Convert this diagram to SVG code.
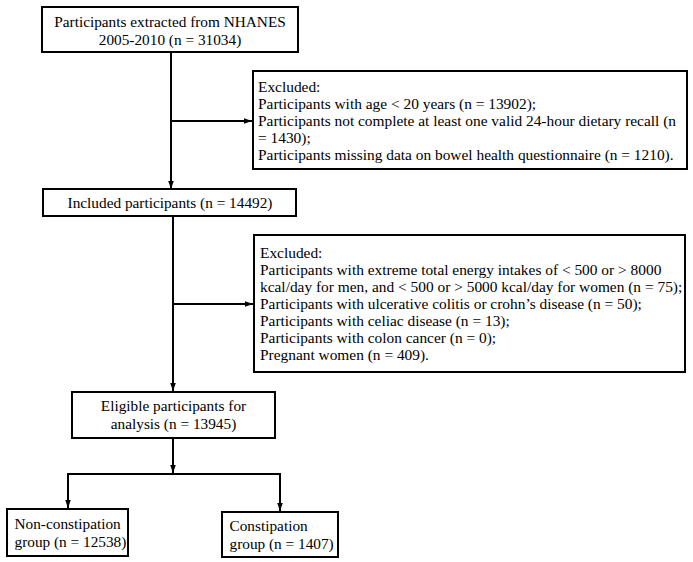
<svg xmlns="http://www.w3.org/2000/svg" width="693" height="562" viewBox="0 0 693 562">
<style>
.box{fill:#fff;stroke:#000;stroke-width:2}
.t{font-family:"Liberation Serif","Times New Roman",serif;font-size:15.3px;fill:#000}
.s{font-family:"Liberation Serif","Times New Roman",serif;font-size:15.4px;fill:#000}
.c{text-anchor:middle}
.ln{fill:none;stroke:#000;stroke-width:2}
</style>
<defs>
<marker id="ah" viewBox="0 0 10 10" refX="10" refY="5" markerWidth="4" markerHeight="4" orient="auto" markerUnits="strokeWidth">
<path d="M0,1.5 L10,5 L0,8.5 z" fill="#000"/>
</marker>
</defs>
<rect width="693" height="562" fill="#fff"/>
<g id="connectors">
<path class="ln" d="M171,52 V189" marker-end="url(#ah)"/>
<path class="ln" d="M171,121 H252" marker-end="url(#ah)"/>
<path class="ln" d="M173,216 V391" marker-end="url(#ah)"/>
<path class="ln" d="M173,304 H253" marker-end="url(#ah)"/>
<path class="ln" d="M173,438 V473" marker-end="url(#ah)"/>
<path class="ln" d="M68,474 H280"/>
<path class="ln" d="M68,473 V508" marker-end="url(#ah)"/>
<path class="ln" d="M280,473 V511" marker-end="url(#ah)"/>
</g>
<g id="n1">
<rect class="box" x="42" y="7" width="256" height="45"/>
<text class="t c" x="170" y="27">Participants extracted from NHANES</text>
<text class="t c" x="170" y="45">2005-2010 (n = 31034)</text>
</g>
<g id="ex1">
<rect class="box" x="253" y="71" width="434" height="98"/>
<text class="s" x="258" y="92">Excluded:</text>
<text class="s" x="258" y="109">Participants with age &lt; 20 years (n = 13902);</text>
<text class="s" x="258" y="126">Participants not complete at least one valid 24-hour dietary recall (n</text>
<text class="s" x="258" y="143">= 1430);</text>
<text class="s" x="258" y="160">Participants missing data on bowel health questionnaire (n = 1210).</text>
</g>
<g id="n2">
<rect class="box" x="43" y="189" width="253" height="27"/>
<text class="t c" x="170" y="208">Included participants (n = 14492)</text>
</g>
<g id="ex2">
<rect class="box" x="254" y="235" width="431" height="137"/>
<text class="s" x="260" y="258">Excluded:</text>
<text class="s" x="260" y="275">Participants with extreme total energy intakes of &lt; 500 or &gt; 8000</text>
<text class="s" x="260" y="292">kcal/day for men, and &lt; 500 or &gt; 5000 kcal/day for women (n = 75);</text>
<text class="s" x="260" y="309">Participants with ulcerative colitis or crohn’s disease (n = 50);</text>
<text class="s" x="260" y="326">Participants with celiac disease (n = 13);</text>
<text class="s" x="260" y="343">Participants with colon cancer (n = 0);</text>
<text class="s" x="260" y="360">Pregnant women (n = 409).</text>
</g>
<g id="n3">
<rect class="box" x="72" y="392" width="203" height="46"/>
<text class="t c" x="173.5" y="411">Eligible participants for</text>
<text class="t c" x="173.5" y="429">analysis (n = 13945)</text>
</g>
<g id="n4">
<rect class="box" x="7" y="509" width="121" height="47"/>
<text class="t" x="14.5" y="529">Non-constipation</text>
<text class="t" x="14.5" y="547">group (n = 12538)</text>
</g>
<g id="n5">
<rect class="box" x="222" y="512" width="116" height="45"/>
<text class="t" x="229.5" y="531">Constipation</text>
<text class="t" x="229.5" y="549">group (n = 1407)</text>
</g>
</svg>
